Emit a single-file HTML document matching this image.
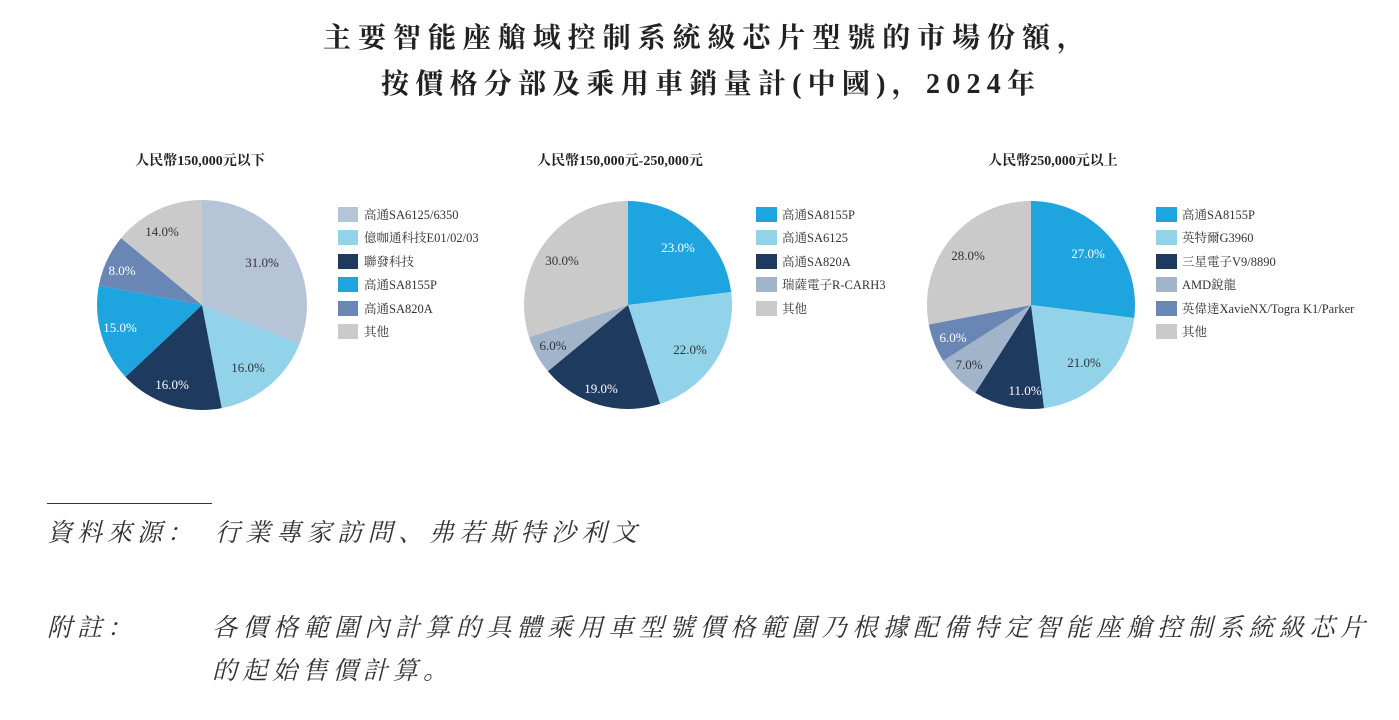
<!DOCTYPE html>
<html><head><meta charset="utf-8"><style>
html,body{margin:0;padding:0;background:#fff;}
svg{display:block;}
.t{font-family:"Liberation Serif","Noto Serif CJK SC",serif;}
.lab{font-family:"Liberation Serif","Noto Serif CJK SC",serif;font-size:13px;}
.leg{font-family:"Liberation Serif","Noto Serif CJK SC",serif;font-size:12.5px;fill:#333;}
</style></head><body>
<svg width="1399" height="720" viewBox="0 0 1399 720" xmlns="http://www.w3.org/2000/svg">
<text class="t" x="323" y="47" font-size="28" font-weight="bold" fill="#222" textLength="762" lengthAdjust="spacing">主要智能座艙域控制系統級芯片型號的市場份額，</text>
<text class="t" x="381" y="93" font-size="28" font-weight="bold" fill="#222" textLength="654" lengthAdjust="spacing">按價格分部及乘用車銷量計(中國)，2024年</text>

<g class="t" font-size="14" font-weight="bold" fill="#222" text-anchor="middle">
<text x="200" y="165">人民幣150,000元以下</text>
<text x="620" y="165">人民幣150,000元-250,000元</text>
<text x="1053" y="165">人民幣250,000元以上</text>
</g>

<!-- Pie 1 -->
<g>
<path d="M202,305 L202,200 A105,105 0 0 1 299.6,343.7 Z" fill="#b6c4d8"/>
<path d="M202,305 L299.6,343.7 A105,105 0 0 1 221.7,408.1 Z" fill="#92d3e9"/>
<path d="M202,305 L221.7,408.1 A105,105 0 0 1 125.5,376.9 Z" fill="#1e3a5e"/>
<path d="M202,305 L125.5,376.9 A105,105 0 0 1 98.9,285.3 Z" fill="#1ea4de"/>
<path d="M202,305 L98.9,285.3 A105,105 0 0 1 121.1,238.1 Z" fill="#6a86b4"/>
<path d="M202,305 L121.1,238.1 A105,105 0 0 1 202,200 Z" fill="#cacaca"/>
<g class="lab" text-anchor="middle">
<text x="262" y="267" fill="#333">31.0%</text>
<text x="248" y="372" fill="#333">16.0%</text>
<text x="172" y="389" fill="#fff">16.0%</text>
<text x="120" y="332" fill="#fff">15.0%</text>
<text x="122" y="275" fill="#fff">8.0%</text>
<text x="162" y="236" fill="#333">14.0%</text>
</g>
</g>
<g>
<rect x="338" y="207" width="20" height="15" fill="#b6c4d8"/><text class="leg" x="364" y="219">高通SA6125/6350</text>
<rect x="338" y="230" width="20" height="15" fill="#92d3e9"/><text class="leg" x="364" y="242">億咖通科技E01/02/03</text>
<rect x="338" y="254" width="20" height="15" fill="#1e3a5e"/><text class="leg" x="364" y="266">聯發科技</text>
<rect x="338" y="277" width="20" height="15" fill="#1ea4de"/><text class="leg" x="364" y="289">高通SA8155P</text>
<rect x="338" y="301" width="20" height="15" fill="#6a86b4"/><text class="leg" x="364" y="313">高通SA820A</text>
<rect x="338" y="324" width="20" height="15" fill="#cacaca"/><text class="leg" x="364" y="336">其他</text>
</g>

<!-- Pie 2 -->
<g>
<path d="M628,305 L628,201 A104,104 0 0 1 731.2,292 Z" fill="#1ea4de"/>
<path d="M628,305 L731.2,292 A104,104 0 0 1 660.1,403.9 Z" fill="#92d3e9"/>
<path d="M628,305 L660.1,403.9 A104,104 0 0 1 547.9,371.3 Z" fill="#1e3a5e"/>
<path d="M628,305 L547.9,371.3 A104,104 0 0 1 529.1,337.1 Z" fill="#a2b4c9"/>
<path d="M628,305 L529.1,337.1 A104,104 0 0 1 628,201 Z" fill="#cacaca"/>
<g class="lab" text-anchor="middle">
<text x="678" y="252" fill="#fff">23.0%</text>
<text x="690" y="354" fill="#333">22.0%</text>
<text x="601" y="393" fill="#fff">19.0%</text>
<text x="553" y="350" fill="#333">6.0%</text>
<text x="562" y="265" fill="#333">30.0%</text>
</g>
</g>
<g>
<rect x="756" y="207" width="21" height="15" fill="#1ea4de"/><text class="leg" x="782" y="219">高通SA8155P</text>
<rect x="756" y="230" width="21" height="15" fill="#92d3e9"/><text class="leg" x="782" y="242">高通SA6125</text>
<rect x="756" y="254" width="21" height="15" fill="#1e3a5e"/><text class="leg" x="782" y="266">高通SA820A</text>
<rect x="756" y="277" width="21" height="15" fill="#a2b4c9"/><text class="leg" x="782" y="289">瑞薩電子R-CARH3</text>
<rect x="756" y="301" width="21" height="15" fill="#cacaca"/><text class="leg" x="782" y="313">其他</text>
</g>

<!-- Pie 3 -->
<g>
<path d="M1031,305 L1031,201 A104,104 0 0 1 1134.2,318 Z" fill="#1ea4de"/>
<path d="M1031,305 L1134.2,318 A104,104 0 0 1 1044,408.2 Z" fill="#92d3e9"/>
<path d="M1031,305 L1044,408.2 A104,104 0 0 1 975.3,392.8 Z" fill="#1e3a5e"/>
<path d="M1031,305 L975.3,392.8 A104,104 0 0 1 943.2,360.7 Z" fill="#a2b4c9"/>
<path d="M1031,305 L943.2,360.7 A104,104 0 0 1 928.8,324.5 Z" fill="#6a86b4"/>
<path d="M1031,305 L928.8,324.5 A104,104 0 0 1 1031,201 Z" fill="#cacaca"/>
<g class="lab" text-anchor="middle">
<text x="1088" y="258" fill="#fff">27.0%</text>
<text x="1084" y="367" fill="#333">21.0%</text>
<text x="1025" y="395" fill="#fff">11.0%</text>
<text x="969" y="369" fill="#333">7.0%</text>
<text x="953" y="342" fill="#fff">6.0%</text>
<text x="968" y="260" fill="#333">28.0%</text>
</g>
</g>
<g>
<rect x="1156" y="207" width="21" height="15" fill="#1ea4de"/><text class="leg" x="1182" y="219">高通SA8155P</text>
<rect x="1156" y="230" width="21" height="15" fill="#92d3e9"/><text class="leg" x="1182" y="242">英特爾G3960</text>
<rect x="1156" y="254" width="21" height="15" fill="#1e3a5e"/><text class="leg" x="1182" y="266">三星電子V9/8890</text>
<rect x="1156" y="277" width="21" height="15" fill="#a2b4c9"/><text class="leg" x="1182" y="289">AMD銳龍</text>
<rect x="1156" y="301" width="21" height="15" fill="#6a86b4"/><text class="leg" x="1182" y="313">英偉達XavieNX/Togra K1/Parker</text>
<rect x="1156" y="324" width="21" height="15" fill="#cacaca"/><text class="leg" x="1182" y="336">其他</text>
</g>

<!-- Footer -->
<line x1="47" y1="503.5" x2="212" y2="503.5" stroke="#333" stroke-width="1"/>
<g class="t" font-size="25" fill="#333" font-style="italic">
<text x="47" y="541" textLength="145" lengthAdjust="spacing">資料來源：</text>
<text x="215" y="541" textLength="422" lengthAdjust="spacing">行業專家訪問、弗若斯特沙利文</text>
<text x="47" y="636" textLength="85" lengthAdjust="spacing">附註：</text>
<text x="212" y="636" textLength="1153" lengthAdjust="spacing">各價格範圍內計算的具體乘用車型號價格範圍乃根據配備特定智能座艙控制系統級芯片</text>
<text x="212" y="679" textLength="236" lengthAdjust="spacing">的起始售價計算。</text>
</g>
</svg>
</body></html>
